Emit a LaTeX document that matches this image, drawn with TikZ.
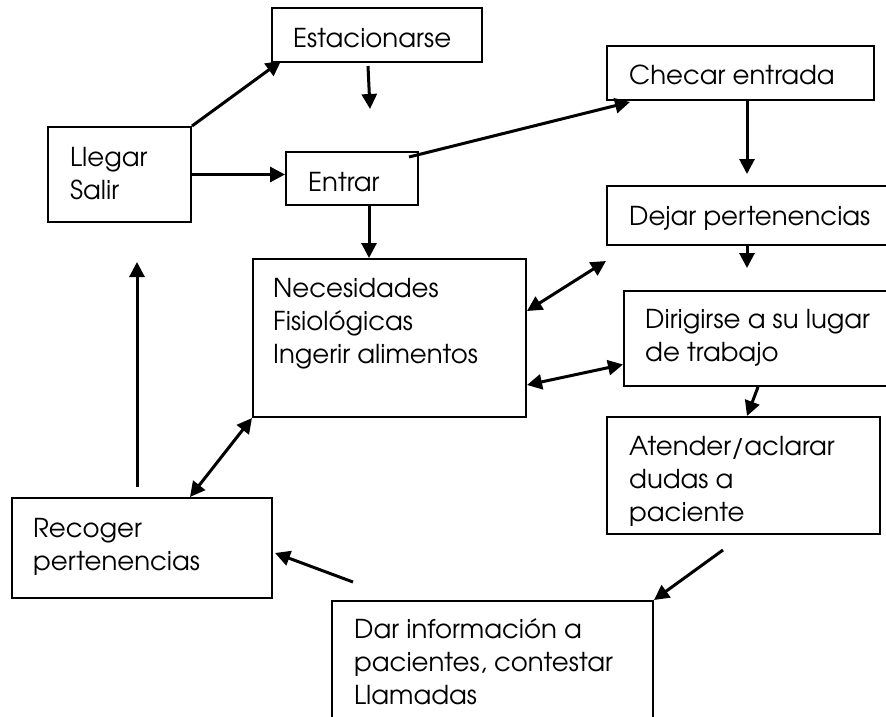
\documentclass[tikz,border=0pt]{standalone}
\usepackage{fontspec}
\setmainfont{TeX Gyre Adventor}
\usetikzlibrary{arrows.meta,calc}
\begin{document}
\begin{tikzpicture}[x=1pt,y=-1pt,
  box/.style={draw, line width=2pt, inner sep=0pt},
  txt/.style={anchor=north west, inner sep=0pt, align=left, font=\fontsize{26}{33}\selectfont},
  arr/.style={line width=3pt, -{Triangle[length=15pt,width=15pt]}},
  darr/.style={line width=3pt, {Triangle[length=15pt,width=15pt]}-{Triangle[length=15pt,width=15pt]}}]
\useasboundingbox (0,0) rectangle (886,717);
\clip (0,0) rectangle (886,717);
% boxes
\node[box, minimum width=210pt, minimum height=54pt] (est) at (377,35) {};
\node[box, minimum width=143pt, minimum height=95pt] (llegar) at (119.5,174.5) {};
\node[box, minimum width=132pt, minimum height=53pt] (entrar) at (352,178.5) {};
\node[box, minimum width=267pt, minimum height=54pt] (checar) at (740.5,73) {};
\node[box, minimum width=293pt, minimum height=59pt] (dejar) at (753.5,215.5) {};
\node[box, minimum width=276pt, minimum height=95pt] (dirig) at (762,338.5) {};
\node[box, minimum width=273pt, minimum height=117pt] (atender) at (743.5,475.5) {};
\node[box, minimum width=273pt, minimum height=158pt] (nec) at (389.5,338) {};
\node[box, minimum width=260pt, minimum height=100pt] (recoger) at (142,548) {};
\node[box, minimum width=321pt, minimum height=139pt] (dar) at (492.5,670.5) {};
% texts
\node[txt] (t-est) at (293,47-23.1) {\strut Estacionarse};
\node[txt] (t-llegar) at (70,166-23.1) {\strut Llegar\\Salir};
\node[txt] (t-entrar) at (308,191-23.1) {\strut Entrar};
\node[txt] (t-checar) at (629,84-23.1) {\strut Checar entrada};
\node[txt] (t-dejar) at (629,225-23.1) {\strut Dejar pertenencias};
\node[txt] (t-dirig) at (645,328-23.1) {\strut Dirigirse a su lugar\\de trabajo};
\node[txt] (t-atender) at (629,455-23.1) {\strut Atender/aclarar\\dudas a\\paciente};
\node[txt] (t-nec) at (273,297-23.1) {\strut Necesidades\\Fisiológicas\\Ingerir alimentos};
\node[txt] (t-recoger) at (33,537-23.1) {\strut Recoger\\pertenencias};
\node[txt] (t-dar) at (354,638-23.1) {\strut Dar información a\\pacientes, contestar\\Llamadas};
% free ends
\coordinate (c2) at ($(est.south)+(-7,46)$);
\coordinate (c6) at ($(checar.south)+(6.5,73)$);
\coordinate (c7s) at ($(dejar.south)+(-6.5,-2)$);
\coordinate (c7) at ($(dejar.south)+(-6.5,22)$);
\coordinate (c8) at ($(dejar.south west)+(0,15)$);
\coordinate (c11) at ($(atender.south)+(-20.5,15)$);
\coordinate (c12) at ($(dar.north west)+(22,-18)$);
\coordinate (c14s) at ($(recoger.north)+(-5,-10)$);
\coordinate (c14) at ($(recoger.north)+(-5,-235)$);
% connectors
\draw[arr] (llegar.north east) -- ($(est.south west)+(10,-2)$);
\draw[arr] ($(est.south)+(-9,3)$) -- (c2);
\draw[arr] (llegar.east) -- (llegar.east -| entrar.west);
\draw[arr] ($(entrar.north east)+(-10,6)$) -- ($(checar.south west)+(24,1)$);
\draw[arr] ($(entrar.south)+(17,0)$) -- ($(nec.north)+(-20.5,0)$);
\draw[arr] ($(checar.south)+(6.5,0)$) -- (c6);
\draw[arr] (c7s) -- (c7);
\draw[darr] ($(nec.east)+(0,-27)$) -- (c8);
\draw[darr] ($(nec.east)+(0,47)$) -- ($(dirig.west)+(0,26)$);
\draw[arr] ($(dirig.south)+(-4,0)$) -- ($(atender.north)+(3.5,0)$);
\draw[arr] (c11) -- (dar.north east);
\draw[arr] (c12) -- ($(recoger.east)+(2,5)$);
\draw[darr] ($(recoger.north)+(48,0)$) -- (nec.south west);
\draw[arr] (c14s) -- (c14);
\end{tikzpicture}
\end{document}
